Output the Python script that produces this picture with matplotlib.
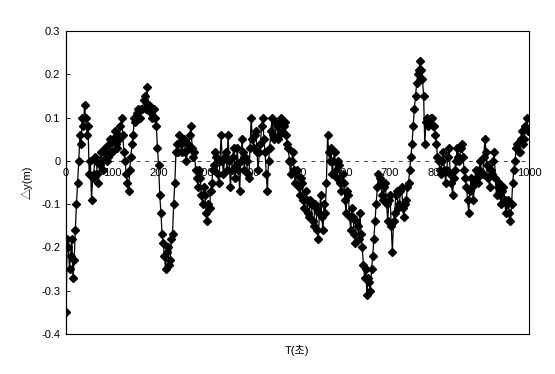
import matplotlib
matplotlib.use("Agg")
import matplotlib.pyplot as plt

plt.rcParams['font.family'] = ['Liberation Sans', 'Noto Sans CJK KR', 'DejaVu Sans']

t_start, t_step = 0.0, 2.5
dy = [
    # 0 - 47.5
    -0.35, -0.18, -0.20, -0.25, -0.22, -0.18, -0.27, -0.23, -0.16, -0.10,
    -0.05, 0.00, 0.06, 0.04, 0.10, 0.08, 0.13, 0.10, 0.06, 0.08,
    # 50 - 97.5
    -0.03, 0.00, -0.09, -0.04, -0.03, 0.01, 0.00, -0.03, -0.05, -0.01,
    0.02, 0.00, -0.02, 0.02, 0.03, 0.00, 0.01, 0.04, 0.05, 0.02,
    # 100 - 147.5
    0.02, 0.05, 0.07, 0.04, 0.03, 0.06, 0.05, 0.08, 0.10, 0.06,
    0.02, 0.00, -0.03, -0.05, -0.07, -0.02, 0.01, 0.04, 0.06, 0.10,
    # 150 - 197.5
    0.09, 0.11, 0.12, 0.10, 0.10, 0.12, 0.12, 0.14, 0.15, 0.12,
    0.17, 0.13, 0.13, 0.11, 0.10, 0.12, 0.12, 0.10, 0.08, 0.03,
    # 200 - 247.5
    -0.01, -0.08, -0.12, -0.17, -0.19, -0.22, -0.25, -0.21, -0.20, -0.24,
    -0.23, -0.18, -0.17, -0.10, -0.05, 0.02, 0.04, 0.02, 0.06, 0.04,
    # 250 - 297.5
    0.02, 0.05, 0.05, 0.02, 0.00, 0.04, 0.03, 0.06, 0.08, 0.03,
    0.01, 0.02, -0.02, -0.04, -0.06, -0.02, -0.04, -0.08, -0.10, -0.06,
    # 300 - 347.5
    -0.08, -0.12, -0.14, -0.10, -0.11, -0.07, -0.05, -0.02, -0.01, 0.02,
    0.01, -0.03, -0.05, 0.00, 0.06, 0.00, -0.03, 0.01, 0.02, -0.02,
    # 350 - 397.5
    0.06, 0.00, -0.06, -0.02, 0.01, 0.03, -0.04, -0.01, 0.03, -0.02,
    -0.07, 0.00, 0.05, 0.02, -0.02, 0.01, 0.00, -0.03, -0.04, 0.03,
    # 400 - 447.5
    0.10, 0.05, 0.03, 0.06, 0.07, 0.02, -0.02, 0.02, 0.04, 0.08,
    0.10, 0.05, 0.02, -0.03, -0.07, 0.00, 0.03, 0.07, 0.10, 0.06,
    # 450 - 497.5
    0.05, 0.09, 0.08, 0.05, 0.06, 0.09, 0.10, 0.07, 0.08, 0.09,
    0.06, 0.04, 0.03, 0.00, -0.03, 0.00, 0.02, -0.02, -0.05, -0.03,
    # 500 - 547.5
    -0.02, -0.06, -0.08, -0.04, -0.05, -0.09, -0.11, -0.07, -0.09, -0.12,
    -0.13, -0.09, -0.10, -0.14, -0.15, -0.10, -0.11, -0.16, -0.18, -0.12,
    # 550 - 597.5
    -0.08, -0.13, -0.16, -0.10, -0.12, -0.05, 0.06, 0.02, 0.00, 0.03,
    -0.03, 0.00, 0.02, -0.02, -0.04, 0.00, -0.01, -0.05, -0.07, -0.03,
    # 600 - 647.5
    -0.05, -0.09, -0.12, -0.07, -0.08, -0.13, -0.16, -0.11, -0.13, -0.17,
    -0.19, -0.14, -0.15, -0.18, -0.12, -0.17, -0.20, -0.24, -0.27, -0.25,
    # 650 - 697.5
    -0.31, -0.27, -0.28, -0.30, -0.25, -0.22, -0.18, -0.14, -0.10, -0.06,
    -0.03, -0.04, -0.05, -0.08, -0.09, -0.06, -0.05, -0.10, -0.14, -0.09,
    # 700 - 747.5
    -0.08, -0.15, -0.21, -0.14, -0.12, -0.08, -0.07, -0.11, -0.10, -0.07,
    -0.06, -0.11, -0.13, -0.10, -0.09, -0.06, -0.05, -0.02, 0.01, 0.04,
    # 750 - 797.5
    0.08, 0.12, 0.15, 0.18, 0.20, 0.21, 0.23, 0.21, 0.19, 0.15,
    0.04, 0.09, 0.10, 0.08, 0.09, 0.10, 0.10, 0.08, 0.08, 0.06,
    # 800 - 847.5
    0.04, 0.01, 0.00, -0.02, -0.03, 0.00, 0.02, -0.02, -0.05, -0.02,
    0.01, 0.03, -0.03, -0.05, -0.08, -0.04, -0.02, 0.00, 0.03, 0.01,
    # 850 - 897.5
    0.00, 0.03, 0.04, 0.01, -0.02, -0.04, -0.06, -0.09, -0.12, -0.07,
    -0.04, -0.06, -0.09, -0.05, -0.02, -0.04, -0.05, -0.02, 0.00, -0.03,
    # 900 - 947.5
    -0.03, 0.01, 0.05, 0.02, -0.01, -0.04, -0.06, -0.02, -0.03, 0.00,
    0.02, -0.04, -0.08, -0.06, -0.05, -0.08, -0.10, -0.07, -0.06, -0.09,
    # 950 - 997.5
    -0.12, -0.10, -0.09, -0.12, -0.14, -0.10, -0.05, -0.02, 0.00, 0.03,
    0.04, 0.02, 0.02, 0.05, 0.07, 0.04, 0.05, 0.08, 0.10, 0.07,
    # 1000
    0.07,
]
t = [t_start + i * t_step for i in range(len(dy))]

xticks = [0, 100, 200, 300, 400, 500, 600, 700, 800, 900, 1000]
xtick_labels = ['0', '100', '200', '300', '400', '500', '600', '700', '800', '900', '1000']
yticks = [-0.4, -0.3, -0.2, -0.1, 0, 0.1, 0.2, 0.3]
ytick_labels = ['-0.4', '-0.3', '-0.2', '-0.1', '0', '0.1', '0.2', '0.3']

fig = plt.figure(figsize=(5.55, 3.74), dpi=100)
ax = fig.add_axes([0.119, 0.107, 0.834, 0.810])

ax.plot(t, dy, color='black', lw=0.9, marker='D', markersize=4.3,
        markerfacecolor='black', markeredgecolor='black', zorder=3)
ax.axhline(0, color='#444444', lw=0.7, ls=(0, (4, 5)), zorder=1)

ax.set_xlim(0, 1000)
ax.set_ylim(-0.4, 0.3)
ax.set_xticks([])
ax.set_yticks(yticks)
ax.set_yticklabels(ytick_labels, fontsize=8)
ax.tick_params(axis='y', direction='in', length=3, width=0.6, pad=4)

for xv, lab in zip(xticks, xtick_labels):
    ax.annotate(lab, xy=(xv, 0), xytext=(0, -5), textcoords='offset points',
                ha='center', va='top', fontsize=8, zorder=2)

ax.spines['left'].set_linewidth(0.9)
ax.spines['top'].set_linestyle((0, (1, 1)))
ax.spines['right'].set_linestyle((0, (1, 1)))
ax.spines['bottom'].set_linestyle((0, (3, 1)))
for s in ['top', 'right', 'bottom']:
    ax.spines[s].set_linewidth(0.8)

ax.set_ylabel('△y(m)', fontsize=8, labelpad=6)
ax.set_xlabel('T(초)', fontsize=8, labelpad=8)

fig.savefig('out.png', dpi=100)
